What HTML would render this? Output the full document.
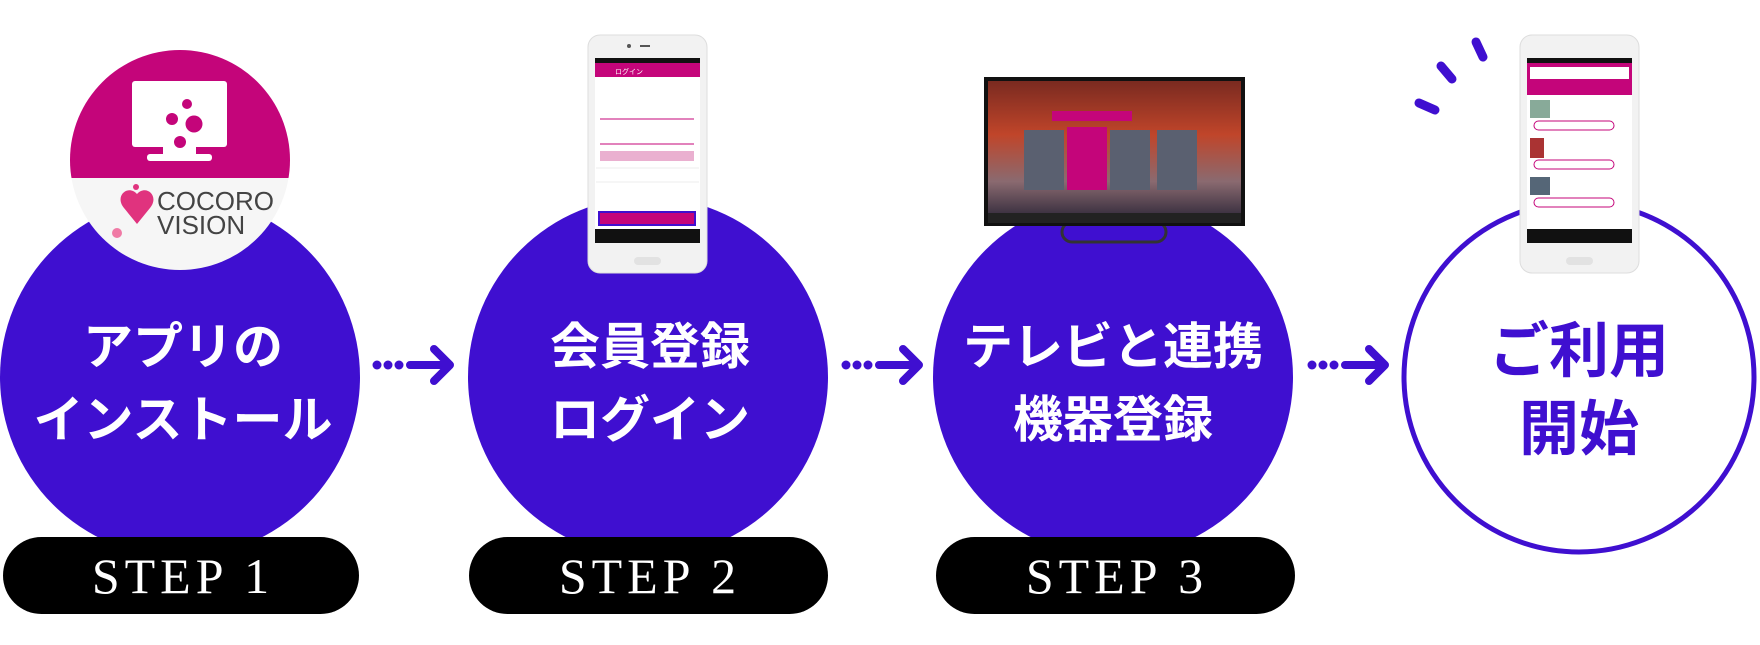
<!DOCTYPE html>
<html><head><meta charset="utf-8"><style>
html,body{margin:0;padding:0;background:#fff;}
body{width:1760px;height:640px;overflow:hidden;}
svg text{font-family:"Liberation Sans","Noto Sans CJK JP",sans-serif;}
</style></head><body>
<svg width="1760" height="640" viewBox="0 0 1760 640" xmlns="http://www.w3.org/2000/svg">
<defs>
<linearGradient id="tv" x1="0" y1="0" x2="0" y2="1">
<stop offset="0" stop-color="#7a2a20"/><stop offset="0.4" stop-color="#c0452a"/><stop offset="0.75" stop-color="#8a6a70"/><stop offset="1" stop-color="#3a3040"/></linearGradient>
<clipPath id="lc"><circle cx="180" cy="160" r="110"/></clipPath>
</defs>
<circle cx="180" cy="377" r="180" fill="#3f0fd0"/>
<circle cx="648" cy="377" r="180" fill="#3f0fd0"/>
<circle cx="1113" cy="377" r="180" fill="#3f0fd0"/>
<circle cx="1579" cy="377" r="175" fill="#fff" stroke="#3f0fd0" stroke-width="5"/>
<rect x="3" y="537" width="356" height="77" rx="38.5" fill="#000"/>
<rect x="469" y="537" width="359" height="77" rx="38.5" fill="#000"/>
<rect x="936" y="537" width="359" height="77" rx="38.5" fill="#000"/>
<g fill="#fff" font-size="50" text-anchor="middle" style="letter-spacing:5px">
<text x="183" y="593" style="font-family:'Liberation Serif',serif">STEP 1</text>
<text x="650" y="593" style="font-family:'Liberation Serif',serif">STEP 2</text>
<text x="1117" y="593" style="font-family:'Liberation Serif',serif">STEP 3</text>
</g>
<g fill="#fff" font-size="50" font-weight="bold" text-anchor="middle">
<text x="183" y="364">アプリの</text>
<text x="183" y="437">インストール</text>
<text x="650" y="364">会員登録</text>
<text x="650" y="437">ログイン</text>
<text x="1113" y="364">テレビと連携</text>
<text x="1113" y="437">機器登録</text>
</g>
<g fill="#3f0fd0" font-size="60" font-weight="bold" text-anchor="middle">
<text x="1579" y="372">ご利用</text>
<text x="1579" y="450">開始</text>
</g>
<g fill="#3f0fd0" stroke="#3f0fd0" stroke-linecap="round" stroke-linejoin="round">
<g transform="translate(373,365)"><circle cx="4" cy="0" r="4.5" stroke="none"/><circle cx="15" cy="0" r="4.5" stroke="none"/><circle cx="26" cy="0" r="4.5" stroke="none"/><path d="M37 0H77M61 -16L77 0L61 16" fill="none" stroke-width="8"/></g>
<g transform="translate(842,365)"><circle cx="4" cy="0" r="4.5" stroke="none"/><circle cx="15" cy="0" r="4.5" stroke="none"/><circle cx="26" cy="0" r="4.5" stroke="none"/><path d="M37 0H77M61 -16L77 0L61 16" fill="none" stroke-width="8"/></g>
<g transform="translate(1308,365)"><circle cx="4" cy="0" r="4.5" stroke="none"/><circle cx="15" cy="0" r="4.5" stroke="none"/><circle cx="26" cy="0" r="4.5" stroke="none"/><path d="M37 0H77M61 -16L77 0L61 16" fill="none" stroke-width="8"/></g>
<path d="M1476 42L1483 57M1441 66L1452 79M1419 103L1435 110" stroke-width="9" fill="none"/>
</g>
<g clip-path="url(#lc)">
<rect x="60" y="40" width="240" height="138" fill="#c4057a"/>
<rect x="60" y="178" width="240" height="100" fill="#f6f6f6"/>
</g>
<rect x="132" y="81" width="95" height="66" rx="3" fill="#fff"/>
<rect x="147" y="154" width="65" height="7" rx="3" fill="#fff"/>
<rect x="163" y="145" width="33" height="12" fill="#fff"/>
<g fill="#c4057a"><circle cx="187" cy="104" r="5"/><circle cx="172" cy="119" r="6"/><circle cx="194" cy="124" r="8.5"/><circle cx="180" cy="142" r="6"/></g>
<path d="M124 208c-10-12 4-24 13-14c9-10 23 2 13 14l-13 16z" fill="#e0337e"/>
<circle cx="117" cy="233" r="5" fill="#f07aa5"/><circle cx="130" cy="196" r="4" fill="#e0337e"/><circle cx="136" cy="187" r="3" fill="#e0337e"/>
<text x="157" y="210" font-size="26" fill="#444">COCORO</text>
<text x="157" y="234" font-size="26" fill="#444">VISION</text>
<rect x="588" y="35" width="119" height="238" rx="12" fill="#f2f2f2" stroke="#ddd"/>
<rect x="595" y="58" width="105" height="185" fill="#fff"/>
<rect x="595" y="58" width="105" height="5" fill="#111"/>
<rect x="595" y="63" width="105" height="14" fill="#c4057a"/>
<text x="615" y="74" font-size="7" fill="#fff">ログイン</text>
<line x1="600" y1="119" x2="694" y2="119" stroke="#c4057a"/><line x1="600" y1="144" x2="694" y2="144" stroke="#c4057a"/>
<rect x="600" y="151" width="94" height="10" fill="#eab0d0"/>
<line x1="596" y1="168" x2="699" y2="168" stroke="#eee"/><line x1="596" y1="182" x2="699" y2="182" stroke="#eee"/>
<rect x="598" y="211" width="98" height="15" fill="#3f0fd0"/><rect x="600" y="213" width="94" height="11" fill="#c4057a"/>
<rect x="595" y="229" width="105" height="14" fill="#111"/>
<rect x="634" y="257" width="27" height="8" rx="4" fill="#e2e2e2"/>
<circle cx="629" cy="46" r="2" fill="#555"/><rect x="640" y="45" width="10" height="2" fill="#555"/>
<rect x="1062" y="222" width="104" height="20" rx="10" fill="none" stroke="#333" stroke-width="3"/>
<rect x="984" y="77" width="261" height="149" fill="#111"/>
<rect x="988" y="81" width="253" height="134" fill="url(#tv)"/>
<g fill="#5a6070"><rect x="1024" y="130" width="40" height="60"/><rect x="1110" y="130" width="40" height="60"/><rect x="1157" y="130" width="40" height="60"/></g>
<rect x="1067" y="127" width="40" height="63" fill="#c4057a"/>
<rect x="1052" y="111" width="80" height="10" fill="#c4057a"/>
<rect x="988" y="213" width="253" height="10" fill="#222"/>
<rect x="1520" y="35" width="119" height="238" rx="12" fill="#f2f2f2" stroke="#ddd"/>
<rect x="1527" y="58" width="105" height="185" fill="#fff"/>
<rect x="1527" y="58" width="105" height="5" fill="#111"/>
<rect x="1527" y="63" width="105" height="32" fill="#c4057a"/>
<rect x="1530" y="67" width="99" height="12" fill="#fff"/>
<g fill="#8a9"><rect x="1530" y="100" width="20" height="18"/><rect x="1530" y="138" width="14" height="20" fill="#a33"/><rect x="1530" y="177" width="20" height="18" fill="#567"/></g>
<g fill="none" stroke="#c4057a"><rect x="1534" y="121" width="80" height="9" rx="4.5"/><rect x="1534" y="160" width="80" height="9" rx="4.5"/><rect x="1534" y="198" width="80" height="9" rx="4.5"/></g>
<rect x="1527" y="229" width="105" height="14" fill="#111"/>
<rect x="1566" y="257" width="27" height="8" rx="4" fill="#e2e2e2"/>
</svg>
</body></html>
